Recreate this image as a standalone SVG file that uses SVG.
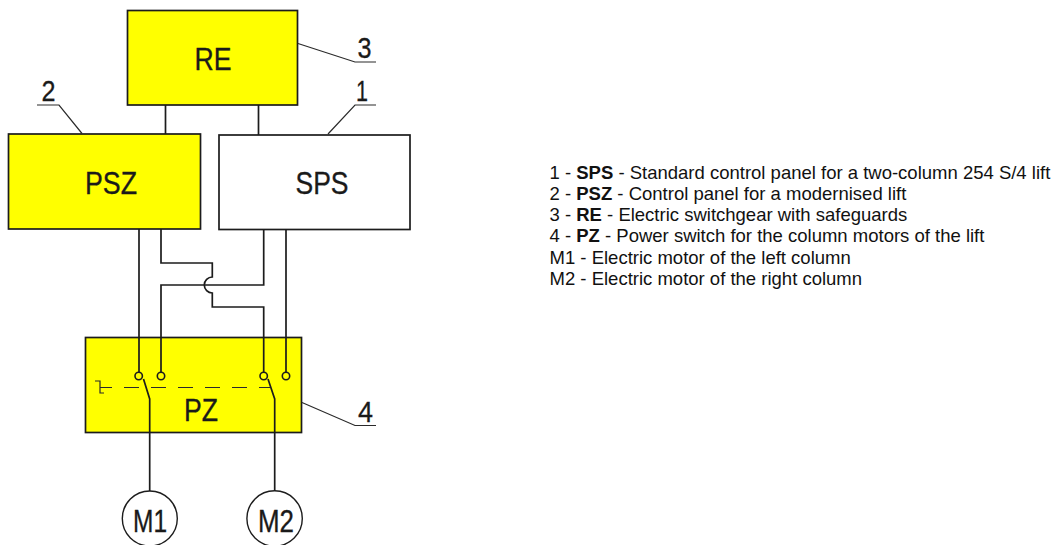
<svg xmlns="http://www.w3.org/2000/svg" width="1061" height="545" viewBox="0 0 1061 545">
<style>
.box{stroke:#1c1c1c;stroke-width:1.7}
.y{fill:#ffff00}
.w{fill:#fff}
.wire{fill:none;stroke:#1c1c1c;stroke-width:1.7}
.thin{fill:none;stroke:#2a2a2a;stroke-width:1.2}
.dash{fill:none;stroke:#2a2a2a;stroke-width:1.2;stroke-dasharray:15 12;stroke-dashoffset:7}
.term{fill:#ffff00;stroke:#1c1c1c;stroke-width:1.6}
.lab{font-family:"Liberation Sans",Arial,sans-serif;font-size:32px;fill:#1a1a1a;stroke:#1a1a1a;stroke-width:.35;text-anchor:middle}
.num{font-family:"Liberation Sans",Arial,sans-serif;font-size:30px;fill:#1a1a1a;stroke:#1a1a1a;stroke-width:.3;text-anchor:middle}
.leg{font-family:"Liberation Sans",Arial,sans-serif;font-size:18.5px;fill:#111}
.leg tspan{font-weight:bold}
</style>
<rect width="1061" height="545" fill="#fff"/>
<g id="node-RE"><rect class="box y" x="127.5" y="10.5" width="170" height="94.5"/><text class="lab" x="213" y="70" textLength="37" lengthAdjust="spacingAndGlyphs">RE</text></g>
<g id="node-PSZ"><rect class="box y" x="8.5" y="134" width="192" height="95"/><text class="lab" x="111" y="194" textLength="52" lengthAdjust="spacingAndGlyphs">PSZ</text></g>
<g id="node-SPS"><rect class="box w" x="219" y="135" width="191" height="94.5"/><text class="lab" x="322" y="194" textLength="53" lengthAdjust="spacingAndGlyphs">SPS</text></g>
<g id="node-PZ"><rect class="box y" x="85.5" y="337.5" width="216" height="95"/><text class="lab" x="201" y="421" textLength="34" lengthAdjust="spacingAndGlyphs">PZ</text></g>
<g id="connectors">
<path class="wire" d="M165.5 105V134M258.5 105V135"/>
<path class="wire" d="M139 229V372.3"/>
<path class="wire" d="M161 229V263H212.300V277A8 8 0 0 0 212.300 293V307H263.700V372.300"/>
<path class="wire" d="M263.700 229V285H161V372.300"/>
<path class="wire" d="M286 229V372.300"/>
<path class="wire" d="M143.500 379L149.700 399V491.500"/>
<path class="wire" d="M268 379L274.700 399V491.500"/>
<path class="dash" d="M104 387.500H270"/>
<path class="thin" d="M95 381H100V393H104M100 387.500H104"/>
<path class="thin" d="M298 43.500L355 62H376M37 105H59L82 133.500M376 105H355L328 134M302 402.500L355 425.500H376"/>
<circle class="term" cx="138.700" cy="376" r="3.700"/><circle class="term" cx="161" cy="376" r="3.700"/><circle class="term" cx="263.700" cy="376" r="3.700"/><circle class="term" cx="286" cy="376" r="3.700"/>
</g>
<g id="node-M1"><circle cx="149.800" cy="518.500" r="27.500" fill="#fff" stroke="#1c1c1c" stroke-width="1.400"/><text class="lab" x="150" y="532" textLength="34" lengthAdjust="spacingAndGlyphs">M1</text></g>
<g id="node-M2"><circle cx="274.600" cy="518.500" r="27.700" fill="#fff" stroke="#1c1c1c" stroke-width="1.400"/><text class="lab" x="276" y="532" textLength="36" lengthAdjust="spacingAndGlyphs">M2</text></g>
<g id="callouts">
<text class="num" x="364.500" y="58" textLength="14" lengthAdjust="spacingAndGlyphs">3</text>
<text class="num" x="48.500" y="101" textLength="14" lengthAdjust="spacingAndGlyphs">2</text>
<text class="num" x="362" y="101" textLength="12" lengthAdjust="spacingAndGlyphs">1</text>
<text class="num" x="365.500" y="422" textLength="15" lengthAdjust="spacingAndGlyphs">4</text>
</g>
<g id="legend">
<text class="leg" x="549.500" y="178.500">1 - <tspan>SPS</tspan> - Standard control panel for a two-column 254 S/4 lift</text>
<text class="leg" x="549.500" y="199.500">2 - <tspan>PSZ</tspan> - Control panel for a modernised lift</text>
<text class="leg" x="549.500" y="221">3 - <tspan>RE</tspan> - Electric switchgear with safeguards</text>
<text class="leg" x="549.500" y="242.300">4 - <tspan>PZ</tspan> - Power switch for the column motors of the lift</text>
<text class="leg" x="549.500" y="264">M1 - Electric motor of the left column</text>
<text class="leg" x="549.500" y="285">M2 - Electric motor of the right column</text>
</g>
</svg>
